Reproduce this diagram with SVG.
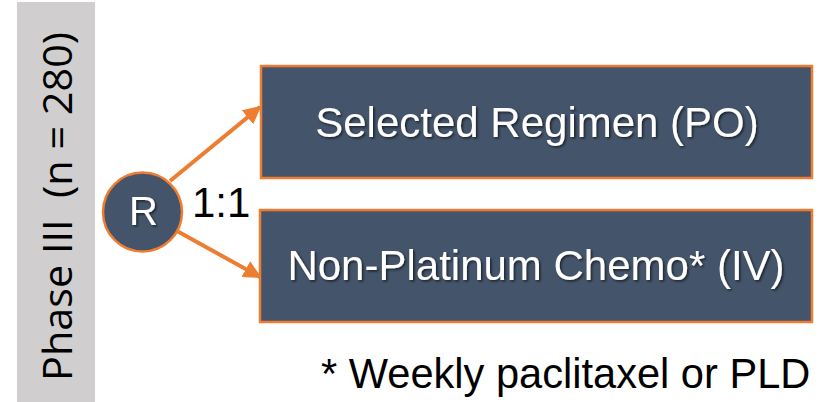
<svg xmlns="http://www.w3.org/2000/svg" width="825" height="402" viewBox="0 0 825 402">
<style>
.box{fill:#44546A;stroke:#ED7D31;stroke-width:2.5}
.bt{font-family:"Liberation Sans",Arial,sans-serif;font-size:42px;fill:#fff;text-anchor:middle;filter:url(#sh)}
.con{stroke:#ED7D31;stroke-width:4;fill:none;marker-end:url(#ah)}
.blk{font-family:"Liberation Sans",Arial,sans-serif;fill:#000}
</style>
<defs>
<marker id="ah" viewBox="0 0 10 10" refX="9" refY="5" markerWidth="4.5" markerHeight="4.5" orient="auto" markerUnits="strokeWidth">
<path d="M0,0 L10,5 L0,10 z" fill="#ED7D31"/>
</marker>
<filter id="sh" x="-5%" y="-20%" width="110%" height="140%">
<feDropShadow dx="1.5" dy="1.5" stdDeviation="1" flood-color="#000" flood-opacity="0.6"/>
</filter>
</defs>
<g id="phase">
<rect x="17" y="2" width="78" height="400" fill="#D0CECE"/>
<text transform="translate(72,381) rotate(-90)" font-family="'Open Sans',sans-serif" font-size="41" fill="#000" textLength="349" lengthAdjust="spacingAndGlyphs" xml:space="preserve">Phase III  (n = 280)</text>
</g>
<g id="connectors">
<line class="con" x1="170" y1="181" x2="260" y2="107"/>
<line class="con" x1="177" y1="231" x2="260" y2="277"/>
</g>
<g id="R">
<circle cx="142.5" cy="212" r="39.5" fill="#44546A" stroke="#ED7D31" stroke-width="2.5"/>
<text x="143.5" y="225" font-family="'Liberation Sans',Arial,sans-serif" font-size="40" fill="#fff" text-anchor="middle" filter="url(#sh)">R</text>
</g>
<text id="ratio" class="blk" x="192" y="217" font-size="42">1:1</text>
<g id="arm1">
<rect class="box" x="261" y="66" width="551" height="112"/>
<text class="bt" x="537" y="137">Selected Regimen (PO)</text>
</g>
<g id="arm2">
<rect class="box" x="260" y="210" width="552" height="112"/>
<text class="bt" x="536" y="280">Non-Platinum Chemo* (IV)</text>
</g>
<text id="footnote" class="blk" x="321" y="388" font-size="41.6">* Weekly paclitaxel or PLD</text>
</svg>
